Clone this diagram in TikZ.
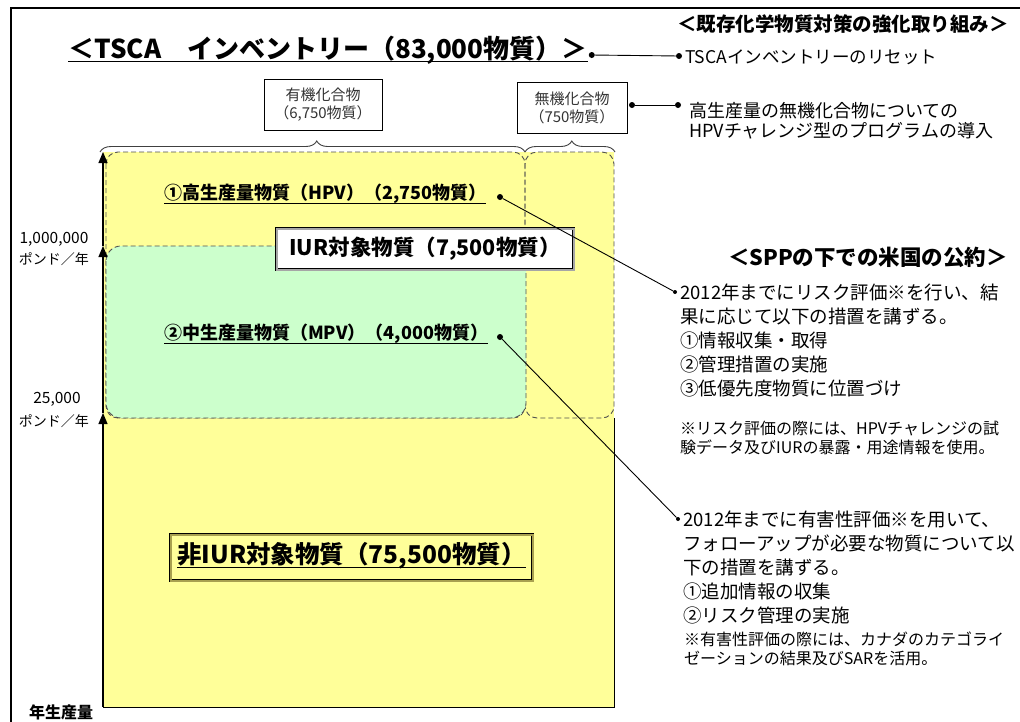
\documentclass[tikz,border=0pt]{standalone}
\usepackage{fontspec}
\setmainfont{Noto Sans CJK JP}
\usetikzlibrary{decorations.pathreplacing,arrows.meta}
\definecolor{yel}{HTML}{FFFF99}
\definecolor{grn}{HTML}{CCFFCC}
\definecolor{dashc}{HTML}{505050}
\definecolor{olivb}{HTML}{A8A050}
\newcommand{\fsz}[1]{\fontsize{#1pt}{#1pt}\selectfont}
\begin{document}
\begin{tikzpicture}[x=1pt,y=-1pt,
  lbl/.style={inner sep=0pt, anchor=west},
  clbl/.style={inner sep=0pt, anchor=center},
  bigdot/.style={circle, fill=black, inner sep=0pt, minimum size=6pt},
  smdot/.style={circle, fill=black, inner sep=0pt, minimum size=4pt},
  dsh/.style={draw=dashc, dash pattern=on 5pt off 3pt, line width=0.9pt},
  conn/.style={line width=0.9pt},
  axisln/.style={line width=1.1pt, -{Triangle[width=9pt,length=11pt]}},
  catbox/.style={draw=black, line width=0.8pt, fill=white, minimum height=51pt, align=center, text=black!80, inner sep=2pt, font=\fontsize{15pt}{18pt}\selectfont},
  bracestyle/.style={decorate, line width=0.9pt, draw=black!75},
  rtxt/.style={lbl, font=\fsz{18.5}},
  ntxt/.style={lbl, font=\fsz{16}}
]
\useasboundingbox (0,0) rectangle (1020,721);
\fill[white] (0,0) rectangle (1020,721);
% outer frame
\draw[line width=1.5pt] (11,740) -- (11,8) -- (1030,8);

% main regions
\fill[yel] (103,152) rectangle (614,707);
\draw[line width=1pt] (614,418) -- (614,707) -- (103,707);
\draw[dsh, rounded corners=12pt] (106,152) rectangle (525,418);
\draw[dsh, rounded corners=12pt] (525,152) rectangle (614,418);
\filldraw[fill=grn, dsh, rounded corners=15pt] (106,246) rectangle (526,418);

% axis with arrowheads
\coordinate (ax0) at (103,707);
\coordinate (ax1) at (103,413);
\coordinate (ax2) at (103,246);
\coordinate (ax3) at (103,152);
\draw[axisln] (ax0) -- (ax1);
\draw[axisln] (ax1) -- (ax2);
\draw[axisln] (ax2) -- (ax3);

% braces
\coordinate (bo1) at (100,152);
\coordinate (bo2) at (525,152);
\coordinate (bi1) at (525,152);
\coordinate (bi2) at (615,152);
\draw[bracestyle, decoration={brace, amplitude=11pt, aspect=0.51}] (bo1) -- (bo2);
\draw[bracestyle, decoration={brace, amplitude=11pt, aspect=0.52}] (bi1) -- (bi2);

% category boxes
\node[catbox, minimum width=118pt] (org) at (323,105) {有機化合物\\（6,750物質）};
\node[catbox, minimum width=110pt] (inorg) at (572,108) {無機化合物\\（750物質）};

% title
\node[lbl, font=\fsz{26}\bfseries] (title) at (68,50) {＜TSCA　インベントリー（83,000物質）＞};
\draw[line width=1.3pt] ([yshift=-3pt]title.base west) -- ([yshift=-3pt]title.base east);
\node[bigdot] (tdot) at ([xshift=4pt,yshift=-5pt]title.east) {};
\node[bigdot] (rdot) at (679,56) {};
\draw[conn] (tdot) -- (rdot);

% right header + items
\node[lbl, font=\fsz{19.5}\bfseries] (hdr) at (677,24) {＜既存化学物質対策の強化取り組み＞};
\node[lbl, font=\fsz{17.5}] (reset) at (685,57) {TSCAインベントリーのリセット};
\node[bigdot] (idot1) at (632,105) {};
\node[bigdot] (idot2) at (678,105) {};
\draw[conn] (idot1) -- (idot2);
\node[lbl, font=\fsz{18}] (hpvprog1) at (689,111) {高生産量の無機化合物についての};
\node[lbl, font=\fsz{18}] (hpvprog2) at (689,131) {HPVチャレンジ型のプログラムの導入};

% HPV / MPV labels
\node[lbl, font=\fsz{18}\bfseries] (hpv) at (164,194) {①高生産量物質（HPV）（2,750物質）};
\draw[line width=1pt] ([yshift=-4pt]hpv.base west) -- ([yshift=-4pt]hpv.base east);
\node[bigdot] (hdot) at (500,197) {};
\node[lbl, font=\fsz{18}\bfseries] (mpv) at (164,334) {②中生産量物質（MPV）（4,000物質）};
\draw[line width=1pt] ([yshift=-4pt]mpv.base west) -- ([yshift=-4pt]mpv.base east);
\node[bigdot] (mdot) at (500,337) {};

% IUR box
\node[draw=black, line width=0.7pt, double=black!35, double distance=2pt, fill=white,
      minimum width=297pt, minimum height=41pt, inner sep=0pt, font=\fsz{21.5}\bfseries] (iur) at (425,249) {IUR対象物質（7,500物質）};

% non-IUR box
\node[draw=black, line width=0.7pt, double=olivb, double distance=2pt, fill=yel,
      minimum width=362pt, minimum height=46pt, inner sep=0pt, font=\fsz{24.5}\bfseries] (niur) at (351.5,557.5) {\phantom{x}};
\node[clbl, font=\fsz{24.5}\bfseries] (niurt) at (351.5,556) {非IUR対象物質（75,500物質）};
\draw[line width=1.2pt] ([yshift=-4pt]niurt.base west) -- ([yshift=-4pt]niurt.base east);

% axis labels
\node[clbl, font=\fsz{15.5}] (l1a) at (54,239) {1,000,000};
\node[clbl, font=\fsz{14}] (l1b) at (54,259) {ポンド／年};
\node[clbl, font=\fsz{15.5}] (l2a) at (57,399) {25,000};
\node[clbl, font=\fsz{14}] (l2b) at (54,421) {ポンド／年};
\node[clbl, font=\fsz{16}\bfseries] (l3) at (61,712) {年生産量};

% SPP block
\node[lbl, font=\fsz{21.5}\bfseries] (spp) at (728,257) {＜SPPの下での米国の公約＞};
\node[smdot] (b1dot) at (675,292) {};
\node[rtxt] (b1l1) at (680,292) {2012年までにリスク評価※を行い、結};
\node[rtxt] (b1l2) at (680,316) {果に応じて以下の措置を講ずる。};
\node[rtxt] (b1l3) at (680,340) {①情報収集・取得};
\node[rtxt] (b1l4) at (680,364) {②管理措置の実施};
\node[rtxt] (b1l5) at (680,388) {③低優先度物質に位置づけ};
\node[ntxt] (n1l1) at (680,428) {※リスク評価の際には、HPVチャレンジの試};
\node[ntxt] (n1l2) at (680,447) {験データ及びIURの暴露・用途情報を使用。};

\node[smdot] (b2dot) at (678,519) {};
\node[rtxt] (b2l1) at (683,519) {2012年までに有害性評価※を用いて、};
\node[rtxt] (b2l2) at (683,543) {フォローアップが必要な物質について以};
\node[rtxt] (b2l3) at (683,567) {下の措置を講ずる。};
\node[rtxt] (b2l4) at (683,591) {①追加情報の収集};
\node[rtxt] (b2l5) at (683,615) {②リスク管理の実施};
\node[ntxt] (n2l1) at (684,639) {※有害性評価の際には、カナダのカテゴライ};
\node[ntxt] (n2l2) at (684,658) {ゼーションの結果及びSARを活用。};

% connectors
\draw[conn] (hdot) -- (b1dot);
\draw[conn] (mdot) -- (b2dot);
\end{tikzpicture}
\end{document}
